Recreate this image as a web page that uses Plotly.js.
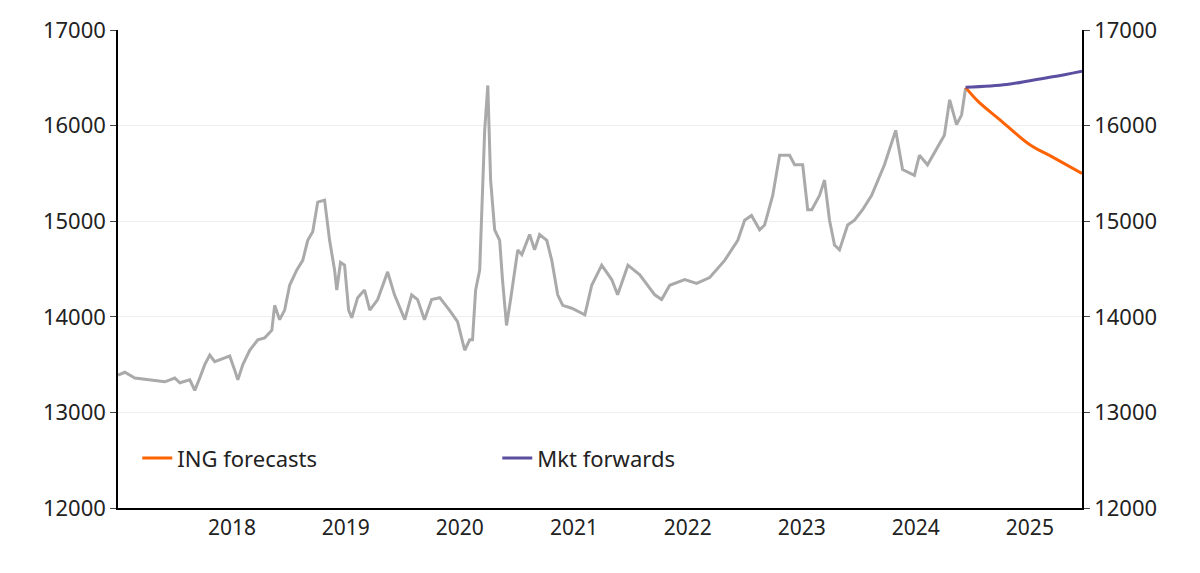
<!DOCTYPE html>
<html><head><meta charset="utf-8">
<script src="https://cdn.plot.ly/plotly-3.0.1.min.js"></script>
<style>body{margin:0}#c{width:1200px;height:573px}</style>
</head><body><div id="c"></div>
<script>
// history, decimal years and values
var histYears = [2017.0,2017.061,2017.149,2017.281,2017.412,2017.5,2017.544,2017.632,2017.675,2017.719,2017.763,2017.807,2017.851,2017.939,2017.982,2018.026,2018.053,2018.096,2018.158,2018.228,2018.289,2018.351,2018.377,2018.421,2018.465,2018.509,2018.570,2018.623,2018.667,2018.711,2018.754,2018.816,2018.860,2018.904,2018.921,2018.956,2018.991,2019.026,2019.053,2019.105,2019.167,2019.211,2019.281,2019.368,2019.430,2019.518,2019.579,2019.632,2019.693,2019.754,2019.825,2019.912,2019.982,2020.044,2020.088,2020.114,2020.140,2020.175,2020.202,2020.219,2020.246,2020.272,2020.307,2020.351,2020.377,2020.412,2020.447,2020.509,2020.544,2020.614,2020.658,2020.702,2020.763,2020.807,2020.860,2020.904,2020.982,2021.096,2021.158,2021.246,2021.333,2021.386,2021.474,2021.579,2021.711,2021.772,2021.842,2021.974,2022.079,2022.193,2022.325,2022.439,2022.500,2022.561,2022.632,2022.675,2022.746,2022.807,2022.895,2022.939,2023.009,2023.053,2023.088,2023.158,2023.202,2023.246,2023.289,2023.333,2023.404,2023.465,2023.535,2023.614,2023.728,2023.825,2023.886,2023.991,2024.035,2024.105,2024.254,2024.298,2024.360,2024.404,2024.439];
var histValues = [13390,13420,13360,13340,13320,13360,13310,13340,13230,13360,13500,13600,13530,13570,13590,13440,13340,13500,13650,13760,13780,13860,14120,13970,14070,14330,14490,14590,14800,14890,15200,15220,14800,14490,14280,14570,14540,14070,13990,14200,14280,14070,14180,14470,14230,13970,14230,14180,13970,14180,14200,14070,13950,13650,13760,13760,14280,14490,15430,15950,16420,15430,14910,14800,14390,13910,14180,14700,14650,14860,14700,14860,14800,14590,14230,14120,14090,14020,14330,14540,14390,14230,14540,14440,14230,14180,14330,14390,14350,14410,14590,14800,15010,15060,14910,14960,15270,15690,15690,15590,15590,15120,15120,15270,15430,15010,14750,14700,14960,15010,15120,15270,15590,15950,15540,15480,15690,15590,15900,16270,16010,16110,16390];
var ingYears = [2024.439,2024.55,2024.75,2025.0,2025.2,2025.46];
var ingValues = [16400,16250,16050,15800,15670,15500];
var fwdYears = [2024.439,2024.8,2025.0,2025.2,2025.46];
var fwdValues = [16400,16430,16470,16510,16570];
var yTicks = [12000,13000,14000,15000,16000,17000];
var yLabels = ['12000','13000','14000','15000','16000','17000'];

function toDate(y){
  var yr = Math.floor(y), s = Date.UTC(yr,0,1), e = Date.UTC(yr+1,0,1);
  return new Date(s + (y-yr)*(e-s)).toISOString().slice(0,10);
}

var hist = {x: histYears.map(toDate), y: histValues, mode: 'lines', showlegend: false,
  line: {color: '#aaaaaa', width: 3}, type: 'scatter'};
var ing = {x: ingYears.map(toDate), y: ingValues, mode: 'lines', name: 'ING forecasts',
  line: {color: '#ff6200', width: 3, shape: 'spline'}, type: 'scatter'};
var fwd = {x: fwdYears.map(toDate), y: fwdValues, mode: 'lines', name: 'Mkt forwards',
  line: {color: '#5a4fa0', width: 3, shape: 'spline'}, type: 'scatter'};
var right = {x: [toDate(2020)], y: [15000], yaxis: 'y2', mode: 'lines', showlegend: false,
  hoverinfo: 'skip', line: {width: 0}, type: 'scatter'};

var font = {family: 'Noto Sans, sans-serif', size: 22, color: '#222'};
var layout = {
  margin: {l: 118, r: 118, t: 30, b: 65},
  paper_bgcolor: '#fff', plot_bgcolor: '#fff',
  font: font,
  xaxis: {range: [toDate(2017.0), toDate(2025.46)], tickvals: [2018,2019,2020,2021,2022,2023,2024,2025].map(toDate),
    ticktext: ['2018','2019','2020','2021','2022','2023','2024','2025'],
    showgrid: false, showline: true, linecolor: '#000', linewidth: 1.5, ticks: '',
    tickfont: {size: 21}},
  yaxis: {range: [12000, 17000], tickvals: yTicks, ticktext: yLabels, showgrid: true, gridcolor: '#eeeeee',
    showline: true, linecolor: '#000', linewidth: 1.5, ticks: 'outside', ticklen: 6, zeroline: false},
  yaxis2: {range: [12000, 17000], tickvals: yTicks, ticktext: yLabels, overlaying: 'y', side: 'right', showgrid: false,
    showline: true, linecolor: '#000', linewidth: 1.5, ticks: 'outside', ticklen: 6, zeroline: false},
  legend: {orientation: 'h', x: 0.02, y: 0.06, xanchor: 'left', yanchor: 'bottom', bgcolor: 'rgba(0,0,0,0)',
    font: {size: 22}, entrywidth: 315, entrywidthmode: 'pixels'},
  showlegend: true
};
Plotly.newPlot('c', [hist, ing, fwd, right], layout, {displayModeBar: false});
</script></body></html>
